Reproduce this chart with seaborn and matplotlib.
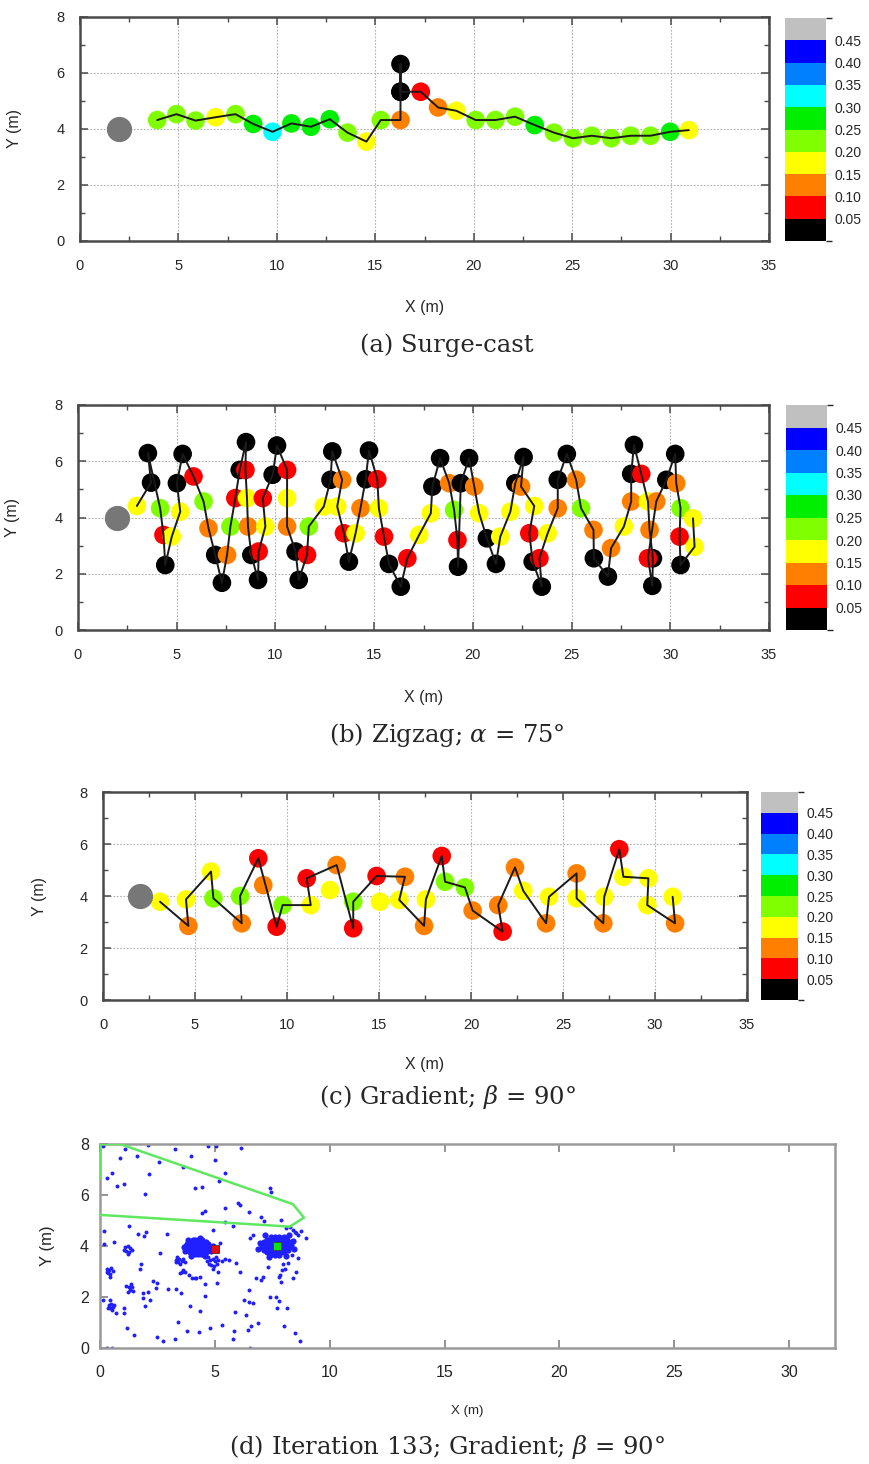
import numpy as np
import pandas as pd
import matplotlib
matplotlib.use("Agg")
import matplotlib.pyplot as plt
import matplotlib.cm as cm
from matplotlib.colors import ListedColormap, BoundaryNorm
from matplotlib.ticker import MultipleLocator
import seaborn as sns

sns.set_theme(style="ticks")
plt.rcParams["font.family"] = ["Liberation Sans", "DejaVu Sans"]
plt.rcParams["mathtext.fontset"] = "dejavuserif"

W, H = 869, 1464

# ---------------- colour scale ----------------
LEVELS = [0.0, 0.05, 0.10, 0.15, 0.20, 0.25, 0.30, 0.35, 0.40, 0.45, 0.50]
CB_TICKS = [0.05, 0.10, 0.15, 0.20, 0.25, 0.30, 0.35, 0.40, 0.45]
COLORS = ["#000000", "#ff0000", "#ff8000", "#ffff00", "#80ff00",
          "#00ee00", "#00ffff", "#0080ff", "#0000ff", "#c0c0c0"]

START_X, START_Y = 2.0, 4.0

# ---------------- (a) Surge-cast ----------------
a_x = [3.92, 4.90, 5.87, 6.89, 7.90, 8.80, 9.78, 10.74, 11.73, 12.69, 13.59, 14.55,
       15.28, 16.28, 16.28, 16.28, 16.28, 17.31, 18.19, 19.12, 20.10, 21.10, 22.10,
       23.10, 24.08, 25.04, 26.00, 26.99, 27.97, 28.98, 29.98, 30.93]
a_y = [4.32, 4.53, 4.30, 4.42, 4.53, 4.18, 3.90, 4.20, 4.08, 4.35, 3.87, 3.55,
       4.32, 4.32, 5.33, 6.32, 5.33, 5.33, 4.77, 4.65, 4.32, 4.32, 4.44,
       4.14, 3.87, 3.67, 3.76, 3.67, 3.76, 3.76, 3.90, 3.96]
a_c = [0.22, 0.22, 0.22, 0.17, 0.22, 0.27, 0.32, 0.27, 0.27, 0.27, 0.22, 0.17,
       0.22, 0.12, 0.02, 0.02, 0.02, 0.07, 0.12, 0.17, 0.22, 0.22, 0.22,
       0.27, 0.22, 0.22, 0.22, 0.22, 0.22, 0.22, 0.27, 0.17]

# ---------------- (b) Zigzag ----------------
b_x = [2.98, 3.70, 3.54, 4.16, 4.33, 4.42, 4.75, 5.18, 5.01, 5.30, 5.85, 6.36, 6.61,
       6.95, 7.29, 7.55, 7.72, 7.97, 8.19, 8.51, 8.48, 8.56, 8.61, 8.78, 9.12, 9.15,
       9.49, 9.36, 9.86, 10.08, 10.59, 10.59, 10.59, 11.02, 11.18, 11.60, 11.69, 12.45,
       12.79, 12.88, 13.38, 13.13, 13.47, 13.72, 14.06, 14.31, 14.57, 14.74, 15.16,
       15.24, 15.50, 15.75, 16.35, 16.68, 17.28, 17.87, 17.95, 18.34, 18.80, 19.05,
       19.22, 19.25, 19.39, 19.81, 20.07, 20.32, 20.71, 21.17, 21.39, 21.90, 22.15,
       22.57, 22.44, 23.11, 22.86, 23.03, 23.49, 23.37, 23.79, 24.30, 24.30, 24.76,
       25.23, 25.48, 26.11, 26.13, 26.84, 27.00, 27.65, 28.02, 28.02, 28.16, 28.53,
       28.87, 28.95, 29.12, 29.09, 28.87, 29.29, 29.80, 30.25, 30.30, 30.52, 30.47,
       30.52, 31.23, 31.15]
b_y = [4.41, 5.24, 6.29, 4.33, 3.38, 2.31, 3.32, 4.21, 5.22, 6.26, 5.46, 4.57, 3.62,
       2.67, 1.68, 2.67, 3.68, 4.69, 5.69, 6.68, 5.69, 4.69, 3.68, 2.67, 1.78, 2.79,
       3.68, 4.69, 5.52, 6.56, 5.69, 4.69, 3.68, 2.79, 1.78, 2.67, 3.68, 4.39,
       5.34, 6.35, 5.34, 4.39, 3.44, 2.43, 3.44, 4.33, 5.36, 6.38, 5.36,
       4.33, 3.32, 2.35, 1.54, 2.55, 3.38, 4.15, 5.10, 6.11, 5.22, 4.27,
       3.20, 2.25, 5.22, 6.11, 5.10, 4.15, 3.26, 2.35, 3.32, 4.21, 5.22,
       6.15, 5.10, 4.41, 3.44, 2.43, 1.54, 2.55, 3.44, 4.33, 5.34, 6.26,
       5.34, 4.33, 3.56, 2.55, 1.90, 2.91, 3.68, 4.57, 5.55, 6.58, 5.55,
       4.57, 3.56, 2.55, 1.57, 2.55, 4.57, 5.34, 6.26, 5.22, 4.33, 3.32,
       2.31, 2.96, 3.97]
b_c = [0.17, 0.02, 0.02, 0.22, 0.07, 0.02, 0.17, 0.17, 0.02, 0.02, 0.07, 0.22, 0.12,
       0.02, 0.02, 0.12, 0.22, 0.07, 0.02, 0.02, 0.07, 0.17, 0.12, 0.02, 0.02, 0.07,
       0.17, 0.07, 0.02, 0.02, 0.07, 0.17, 0.12, 0.02, 0.02, 0.07, 0.22, 0.17,
       0.02, 0.02, 0.12, 0.17, 0.07, 0.02, 0.17, 0.12, 0.02, 0.02, 0.07,
       0.17, 0.07, 0.02, 0.02, 0.07, 0.17, 0.17, 0.02, 0.02, 0.12, 0.22,
       0.07, 0.02, 0.02, 0.02, 0.12, 0.17, 0.02, 0.02, 0.17, 0.17, 0.02,
       0.02, 0.12, 0.17, 0.07, 0.02, 0.02, 0.07, 0.17, 0.12, 0.02, 0.02,
       0.12, 0.22, 0.12, 0.02, 0.02, 0.12, 0.17, 0.12, 0.02, 0.02, 0.07,
       0.17, 0.12, 0.02, 0.02, 0.07, 0.12, 0.02, 0.02, 0.12, 0.22, 0.07,
       0.02, 0.17, 0.17]

# ---------------- (c) Gradient ----------------
c_x = [3.10, 4.64, 4.51, 5.87, 6.00, 7.54, 7.45, 8.44, 8.71, 9.44, 9.76, 11.29, 11.07,
       12.70, 12.34, 13.60, 13.60, 14.87, 15.05, 16.41, 16.10, 17.45, 17.55, 18.41, 18.59,
       19.67, 20.09, 21.72, 21.48, 22.39, 22.84, 24.08, 24.24, 25.74, 25.74, 27.19,
       27.24, 28.06, 28.28, 29.64, 29.58, 31.09, 30.96]
c_y = [3.78, 2.85, 3.87, 4.94, 3.91, 2.95, 4.00, 5.45, 4.42, 2.82, 3.65, 3.65, 4.68,
       5.19, 4.23, 2.76, 3.78, 4.77, 3.78, 4.74, 3.85, 2.85, 3.87, 5.54, 4.55,
       4.33, 3.44, 2.63, 3.65, 5.10, 4.20, 2.95, 3.97, 4.87, 3.91, 2.95,
       3.97, 5.80, 4.74, 4.68, 3.65, 2.95, 3.97]
c_c = [0.17, 0.12, 0.17, 0.17, 0.22, 0.12, 0.22, 0.07, 0.12, 0.07, 0.22, 0.17, 0.07,
       0.12, 0.17, 0.07, 0.22, 0.07, 0.17, 0.12, 0.17, 0.12, 0.17, 0.07, 0.22,
       0.22, 0.12, 0.07, 0.12, 0.12, 0.17, 0.12, 0.17, 0.12, 0.17, 0.12,
       0.17, 0.07, 0.17, 0.17, 0.17, 0.12, 0.17]
# path order for the (c) line
c_line_x = [3.10, 4.64, 4.51, 5.87, 6.00, 7.54, 7.45, 8.44, 9.44, 9.76, 11.29, 11.07,
            12.70, 13.60, 13.60, 14.87, 16.41, 16.10, 17.45, 17.55, 18.41, 18.59,
            19.67, 20.09, 21.72, 21.48, 22.39, 22.84, 24.08, 24.24, 25.74, 25.74, 27.19,
            27.24, 28.06, 28.28, 29.64, 29.58, 31.09, 30.96]
c_line_y = [3.78, 2.85, 3.87, 4.94, 3.91, 2.95, 4.00, 5.45, 2.82, 3.65, 3.65, 4.68,
            5.19, 2.76, 3.78, 4.77, 4.74, 3.85, 2.85, 3.87, 5.54, 4.55,
            4.33, 3.44, 2.63, 3.65, 5.10, 4.20, 2.95, 3.97, 4.87, 3.91, 2.95,
            3.97, 5.80, 4.74, 4.68, 3.65, 2.95, 3.97]

# ---------------- (d) particle filter ----------------
d_x = [0.14, 1.09, 2.10, 3.26, 4.71, 5.07, 6.16, 0.87, 1.60, 2.57, 3.96, 3.60, 5.00,
       0.54, 0.30, 2.13, 5.43, 5.17, 0.74, 1.03, 1.96, 4.13, 4.45, 7.39, 7.43,
       6.01, 6.08, 5.43, 6.49, 6.99, 7.12, 7.87, 4.42, 4.57,
       1.28, 0.19, 1.67, 1.99, 1.93, 2.90, 4.93, 5.43, 5.77,
       8.09, 8.26, 8.41, 8.48, 8.55, 8.77, 8.60, 8.99, 6.52, 6.67, 5.22,
       0.60, 0.19, 2.61, 1.78, 1.74,
       3.33, 3.55, 4.16, 4.57, 5.14, 5.94, 6.09, 6.81, 7.32, 7.83, 8.19, 8.07, 8.41,
       7.10, 7.03, 7.78, 7.87, 7.94, 7.97, 8.55, 8.38, 8.62,
       2.46, 2.32, 2.42, 2.97, 3.30, 3.52, 2.10, 1.88, 1.88, 2.17, 1.96,
       3.94, 4.35, 4.59, 5.10,
       6.48, 6.28, 6.48, 6.64, 7.39, 7.68, 7.78, 8.12, 7.71,
       5.87, 6.35, 6.88, 6.57, 6.45, 8.00, 8.48, 8.72,
       3.41, 3.77, 4.30, 4.81, 5.33, 5.84, 5.80, 6.52,
       3.26, 2.75, 2.49, 1.49, 1.19,
       0.14, 0.70, 1.06, 1.06, 0.29, 0.54, 0.43,
       3.88, 3.99, 4.13, 4.35, 3.48, 3.60, 3.70]
d_y = [7.92, 7.80, 7.96, 7.80, 7.92, 7.92, 7.86, 7.44, 7.54, 7.31, 7.54, 7.11, 7.37,
       6.88, 6.65, 6.81, 6.88, 6.56, 6.35, 6.43, 6.05, 6.26, 6.33, 6.26, 6.10,
       5.67, 5.60, 5.50, 5.32, 5.15, 5.00, 5.02, 5.28, 5.37,
       4.80, 4.60, 4.48, 4.56, 4.40, 4.46, 4.63, 4.93, 4.80,
       4.72, 4.76, 4.63, 4.56, 4.50, 4.60, 4.43, 4.33, 4.30, 4.43, 4.11,
       4.14, 4.09, 3.71, 3.28, 3.09,
       3.38, 2.99, 2.76, 2.51, 2.99, 3.32, 2.97, 2.73, 3.19, 2.86, 3.32, 3.10, 2.76,
       2.80, 2.67, 2.80, 2.60, 3.06, 3.28, 2.97, 3.65, 3.52,
       2.54, 2.64, 2.36, 2.31, 2.31, 2.17, 2.21, 2.14, 1.95, 1.88, 1.65,
       1.65, 1.45, 2.05, 2.54,
       2.27, 1.88, 1.82, 1.75, 1.99, 1.99, 1.84, 1.58, 1.58,
       1.42, 1.29, 0.99, 0.87, 0.71, 0.86, 0.57, 0.29,
       1.03, 0.67, 0.64, 0.80, 0.90, 0.67, 0.34, 0.00,
       0.35, 0.27, 0.42, 0.51, 0.77,
       1.88, 1.36, 1.56, 1.36, 0.01, 0.00, 1.88,
       2.86, 2.76, 2.73, 2.80, 2.93, 3.06, 2.99]
# small clusters
d_cl_x = [1.10, 1.20, 1.30, 1.15, 1.28, 1.38, 1.22, 1.05,
          0.30, 0.40, 0.50, 0.35, 0.45, 0.42, 0.32, 0.55,
          1.15, 1.25, 1.40, 1.30, 1.45, 1.20, 1.35,
          0.38, 0.50, 0.58, 0.45, 0.35, 0.52, 0.62,
          3.35, 3.45, 3.55, 3.62, 3.40, 3.50, 3.30, 3.68,
          4.70, 4.80, 4.90, 5.00, 4.75, 4.85, 5.05, 5.15, 5.30, 5.45, 5.60, 4.95, 5.10, 4.65, 4.90]
d_cl_y = [3.95, 4.00, 3.92, 3.82, 3.78, 3.85, 3.70, 3.86,
          3.10, 3.05, 3.15, 2.95, 2.90, 2.80, 3.00, 3.02,
          2.45, 2.38, 2.40, 2.28, 2.25, 2.20, 2.50,
          1.70, 1.72, 1.62, 1.55, 1.58, 1.50, 1.68,
          3.55, 3.48, 3.42, 3.50, 3.38, 3.30, 3.45, 3.38,
          3.55, 3.45, 3.50, 3.40, 3.30, 3.25, 3.55, 3.45, 3.40, 3.50, 3.45, 3.20, 3.30, 3.40, 3.10]
# dense blob around the red square
blob1_x = [4.05, 4.15, 4.25, 4.35, 4.45,
           3.90, 4.00, 4.10, 4.20, 4.30, 4.40, 4.50, 4.60,
           3.80, 3.90, 4.00, 4.10, 4.20, 4.30, 4.40, 4.50, 4.60, 4.70,
           3.75, 3.85, 3.95, 4.05, 4.15, 4.25, 4.35, 4.45, 4.55, 4.65, 4.75,
           3.78, 3.88, 3.98, 4.08, 4.18, 4.28, 4.38, 4.48, 4.58, 4.68, 4.80,
           3.80, 3.90, 4.00, 4.10, 4.20, 4.30, 4.40, 4.50, 4.60, 4.70,
           3.90, 4.00, 4.10, 4.20, 4.30, 4.40, 4.50, 4.60,
           4.00, 4.12, 4.25, 4.38, 4.50,
           3.65, 3.70, 4.90, 4.85, 3.95, 4.55, 4.35, 3.85]
blob1_y = [4.25, 4.25, 4.25, 4.25, 4.25,
           4.17, 4.17, 4.17, 4.17, 4.17, 4.17, 4.17, 4.17,
           4.09, 4.09, 4.09, 4.09, 4.09, 4.09, 4.09, 4.09, 4.09, 4.09,
           4.01, 4.01, 4.01, 4.01, 4.01, 4.01, 4.01, 4.01, 4.01, 4.01, 4.01,
           3.93, 3.93, 3.93, 3.93, 3.93, 3.93, 3.93, 3.93, 3.93, 3.93, 3.93,
           3.85, 3.85, 3.85, 3.85, 3.85, 3.85, 3.85, 3.85, 3.85, 3.85,
           3.77, 3.77, 3.77, 3.77, 3.77, 3.77, 3.77, 3.77,
           3.69, 3.69, 3.69, 3.69, 3.69,
           3.95, 3.80, 4.00, 3.82, 3.60, 3.62, 4.33, 4.25]
# dense blob around the green square
blob2_x = [7.45, 7.60, 7.80, 8.00,
           7.25, 7.40, 7.55, 7.70, 7.85, 8.00, 8.15,
           7.15, 7.30, 7.45, 7.60, 7.75, 7.90, 8.05, 8.20,
           7.10, 7.25, 7.40, 7.55, 7.70, 7.85, 8.00, 8.15, 8.30,
           7.05, 7.20, 7.35, 7.50, 7.65, 7.80, 7.95, 8.10, 8.25,
           7.15, 7.30, 7.45, 7.60, 7.75, 7.90, 8.05, 8.20,
           7.25, 7.40, 7.55, 7.70, 7.85, 8.00,
           7.40, 7.60, 7.80,
           6.95, 6.90, 8.40, 8.45, 7.35, 8.10, 7.20, 8.25]
blob2_y = [4.35, 4.35, 4.35, 4.35,
           4.25, 4.25, 4.25, 4.25, 4.25, 4.25, 4.25,
           4.15, 4.15, 4.15, 4.15, 4.15, 4.15, 4.15, 4.15,
           4.05, 4.05, 4.05, 4.05, 4.05, 4.05, 4.05, 4.05, 4.05,
           3.95, 3.95, 3.95, 3.95, 3.95, 3.95, 3.95, 3.95, 3.95,
           3.85, 3.85, 3.85, 3.85, 3.85, 3.85, 3.85, 3.85,
           3.75, 3.75, 3.75, 3.75, 3.75, 3.75,
           3.63, 3.63, 3.63,
           4.10, 3.90, 4.20, 3.90, 3.55, 3.60, 4.45, 4.45]

poly_x = [0.0, 0.0, 0.87, 8.40, 8.88, 8.26, 0.0]
poly_y = [6.65, 8.0, 8.0, 5.64, 5.11, 4.76, 5.22]
RED_SQ = (5.0, 3.88)
GREEN_SQ = (7.72, 4.01)

CAPTIONS = ["(a) Surge-cast", r"(b) Zigzag; $\alpha$ = 75°", r"(c) Gradient; $\beta$ = 90°",
            r"(d) Iteration 133; Gradient; $\beta$ = 90°"]

# ---------------- figure ----------------
fig = plt.figure(figsize=(W / 100, H / 100), dpi=100)


def rect(l, t, r, b):
    return [l / W, 1 - b / H, (r - l) / W, (b - t) / H]


cmap = ListedColormap(COLORS)
norm = BoundaryNorm(LEVELS, cmap.N)
palette = {i: COLORS[i] for i in range(len(COLORS))}
FRAME = "#4a4a4a"


def style_axes(ax, xmax, ylab_off, xlab_off, w_px, h_px):
    ax.set_xlim(0, xmax)
    ax.set_ylim(0, 8)
    ax.xaxis.set_major_locator(MultipleLocator(5))
    ax.xaxis.set_minor_locator(MultipleLocator(2.5))
    ax.yaxis.set_major_locator(MultipleLocator(2))
    ax.yaxis.set_minor_locator(MultipleLocator(1))
    ax.tick_params(which="both", direction="in", top=True, right=True, color=FRAME)
    ax.tick_params(which="major", length=6, width=1.1, labelsize=10.5)
    ax.tick_params(which="minor", length=3.5, width=1.0)
    ax.tick_params(axis="x", which="major", pad=13)
    ax.tick_params(axis="y", which="major", pad=11)
    for s in ax.spines.values():
        s.set_color(FRAME)
        s.set_linewidth(1.8)
    ax.grid(True, which="major", ls=(0, (1.5, 1.5)), color="#b0b0b0", lw=0.8)
    ax.set_axisbelow(True)
    ax.set_xlabel("X (m)", fontsize=11.5)
    ax.set_ylabel("Y (m)", fontsize=11.5)
    ax.xaxis.set_label_coords(0.5, -xlab_off / h_px)
    ax.yaxis.set_label_coords(-ylab_off / w_px, 0.5)


def draw_track(ax, x, y, c, lx=None, ly=None):
    df = pd.DataFrame({"x": x, "y": y, "bin": np.digitize(c, LEVELS[1:-1])})
    sns.scatterplot(data=df, x="x", y="y", hue="bin", palette=palette, s=180,
                    linewidth=0, legend=False, ax=ax, zorder=3)
    if lx is None:
        lx, ly = x, y
    ldf = pd.DataFrame({"x": lx, "y": ly})
    sns.lineplot(data=ldf, x="x", y="y", sort=False, estimator=None, color="#1a1a1a",
                 lw=1.4, ax=ax, zorder=4)
    sns.scatterplot(x=[START_X], y=[START_Y], color="#777777", s=330, linewidth=0,
                    ax=ax, zorder=3)


def add_cbar(box):
    cax = fig.add_axes(rect(*box))
    cb = fig.colorbar(cm.ScalarMappable(norm=norm, cmap=cmap), cax=cax, ticks=CB_TICKS)
    cb.outline.set_visible(False)
    cb.set_ticklabels([f"{t:.2f}" for t in CB_TICKS])
    cax.tick_params(length=0, labelsize=10, pad=6)


# (a)
ax_a = fig.add_axes(rect(80, 17, 769, 241))
draw_track(ax_a, a_x, a_y, a_c)
style_axes(ax_a, 35, 58, 59, 689, 224)
add_cbar((785, 18, 826, 241))

# (b)
ax_b = fig.add_axes(rect(78, 405, 769, 630))
draw_track(ax_b, b_x, b_y, b_c)
style_axes(ax_b, 35, 58, 60, 691, 225)
add_cbar((786, 405, 827, 630))

# (c)
ax_c = fig.add_axes(rect(103, 792, 747, 1000))
draw_track(ax_c, c_x, c_y, c_c, c_line_x, c_line_y)
style_axes(ax_c, 35, 56, 57, 644, 208)
add_cbar((761, 792, 798, 1000))

# (d)
ax_d = fig.add_axes(rect(100, 1144, 835, 1348))
pts_x = d_x + d_cl_x
pts_y = d_y + d_cl_y
sns.scatterplot(x=pts_x, y=pts_y, color="#1f1fff", s=8, linewidth=0, ax=ax_d, zorder=2)
sns.scatterplot(x=blob1_x + blob2_x, y=blob1_y + blob2_y, color="#1f1fff", s=20,
                linewidth=0, ax=ax_d, zorder=2)
sns.lineplot(x=poly_x, y=poly_y, sort=False, estimator=None, color="#5fe85f", lw=1.8,
             ax=ax_d, zorder=3)
sns.scatterplot(x=[RED_SQ[0]], y=[RED_SQ[1]], marker="s", color="#e01010", s=28,
                edgecolor="#552222", linewidth=0.6, ax=ax_d, zorder=4)
sns.scatterplot(x=[GREEN_SQ[0]], y=[GREEN_SQ[1]], marker="s", color="#10e010", s=28,
                edgecolor="#225522", linewidth=0.6, ax=ax_d, zorder=4)
ax_d.set_xlim(0, 32)
ax_d.set_ylim(0, 8)
ax_d.xaxis.set_major_locator(MultipleLocator(5))
ax_d.yaxis.set_major_locator(MultipleLocator(2))
ax_d.tick_params(which="major", direction="in", top=True, right=False, length=6,
                 width=1.3, color="#8a8a8a", labelsize=11.5)
ax_d.tick_params(axis="x", pad=12)
ax_d.tick_params(axis="y", pad=8)
for s in ax_d.spines.values():
    s.set_color("#9a9a9a")
    s.set_linewidth(1.8)
ax_d.grid(False)
ax_d.set_xlabel("X (m)", fontsize=9.5)
ax_d.set_ylabel("Y (m)", fontsize=12)
ax_d.xaxis.set_label_coords(0.5, -57 / 204)
ax_d.yaxis.set_label_coords(-45 / 735, 0.5)

# captions
for txt, ypx in zip(CAPTIONS, [345, 735, 1097, 1447]):
    fig.text(447 / W, 1 - ypx / H, txt, ha="center", va="center",
             family="DejaVu Serif", fontsize=17.5)

fig.savefig("out.png", dpi=100, facecolor="white")
